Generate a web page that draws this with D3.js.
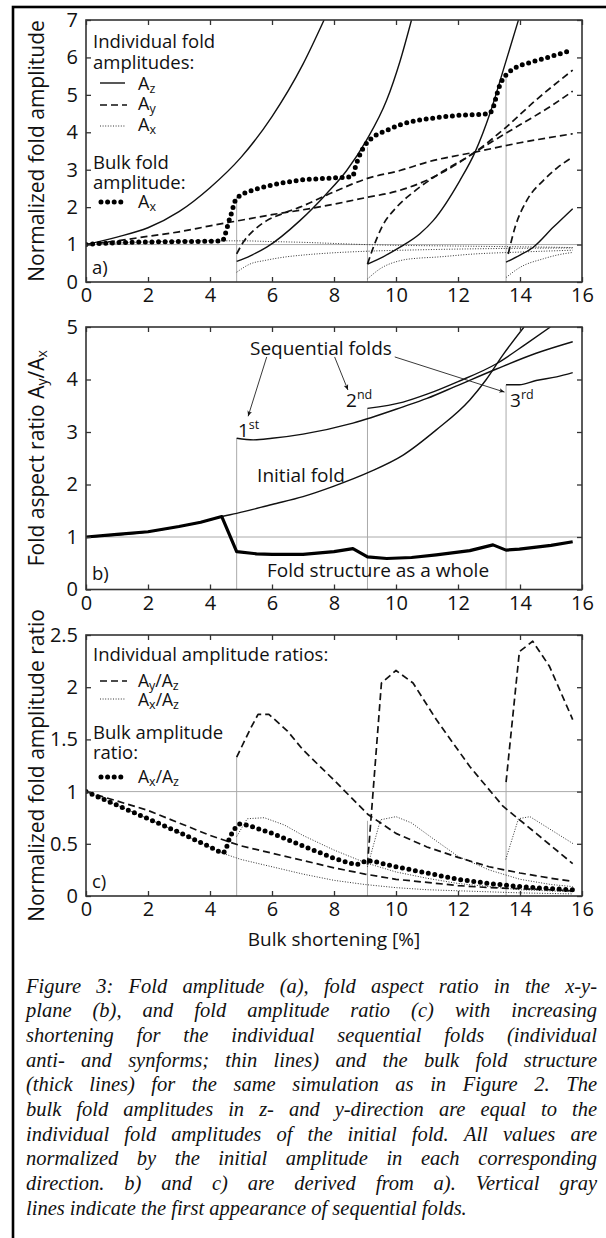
<!DOCTYPE html>
<html>
<head>
<meta charset="utf-8">
<script src="https://cdn.jsdelivr.net/npm/d3@7"></script>
<style>
  body { margin: 0; background: #fff; }
  svg { display: block; }
  text { font-family: "Open Sans", sans-serif; fill: #111; }
  .cap { font-family: "Liberation Serif", "Times New Roman", serif; font-style: italic; }
</style>
</head>
<body>
<svg id="fig" width="606" height="1238"></svg>
<script>
// ---------- data ----------
var xTicks = [0, 2, 4, 6, 8, 10, 12, 14, 16];
var seqStart = [4.86, 9.08, 13.55];

// a) normalized fold amplitude
var aTicks = [0, 1, 2, 3, 4, 5, 6, 7];
var aAzInit = [[0,1],[1,1.2],[2,1.45],[3,1.88],[4,2.52],[5,3.33],[6,4.42],[7,5.82],[7.68,7.0]];
var aAzSeq1 = [[4.86,0.55],[5.3,0.7],[5.83,0.93],[6.9,1.64],[7.76,2.36],[8.41,2.98],[9.05,3.79],[9.7,4.86],[10.13,5.9],[10.5,7.0]];
var aAzSeq2 = [[9.08,0.48],[9.6,0.68],[10.13,0.93],[10.77,1.29],[11.2,1.64],[12.06,2.71],[12.55,3.47],[13.03,4.5],[13.46,5.66],[13.95,7.0]];
var aAzSeq3 = [[13.55,0.53],[14.0,0.72],[14.43,0.93],[15.07,1.46],[15.7,1.96]];
var aAyInit = [[0,1],[1,1.1],[2,1.22],[3,1.34],[4,1.5],[5,1.65],[6,1.8],[7,1.93],[8,2.08],[9,2.25],[10,2.42],[11,2.72],[12,3.17],[12.55,3.47],[13,3.7],[14,4.2],[15,4.7],[15.7,5.1]];
var aAySeq1 = [[4.86,0.75],[5.07,1.06],[5.4,1.37],[5.83,1.64],[6.26,1.8],[6.9,2.0],[7.98,2.4],[9.05,2.76],[10.13,2.98],[11.08,3.22],[12.55,3.47],[14,3.72],[15.7,3.96]];
var aAySeq2 = [[9.08,0.48],[9.27,0.93],[9.54,1.46],[10.02,2.0],[10.56,2.4],[11.5,2.95],[12.55,3.47],[13.5,4.1],[14.5,4.85],[15.7,5.66]];
var aAySeq3 = [[13.62,0.75],[13.84,1.46],[14.22,2.18],[14.75,2.71],[15.2,3.05],[15.7,3.34]];
var aAxInit = [[0,1],[1,1.04],[2,1.07],[3,1.09],[4,1.1],[5,1.1],[6,1.08],[7,1.06],[8,1.03],[9,1.0],[10,0.98],[11,0.97],[12,0.96],[13,0.95],[14,0.94],[15,0.93],[15.7,0.92]];
var aAxSeq1 = [[4.86,0.26],[5.29,0.48],[5.8,0.58],[6.35,0.66],[7,0.72],[7.98,0.78],[9,0.82],[10.77,0.86],[12,0.88],[14,0.9],[15.7,0.91]];
var aAxSeq2 = [[9.08,0.08],[9.48,0.35],[10.13,0.57],[10.77,0.64],[11.2,0.66],[12.55,0.75],[14,0.8],[15.7,0.85]];
var aAxSeq3 = [[13.55,0.12],[14.0,0.39],[14.75,0.62],[15.2,0.72],[15.7,0.79]];
var aAxBulk = [[0,1.0],[0.5,1.03],[1,1.05],[2,1.07],[3,1.08],[4,1.09],[4.4,1.1],[4.5,1.3],[4.6,1.6],[4.7,1.86],[4.8,2.15],[4.95,2.3],[5.2,2.4],[5.8,2.55],[6.9,2.72],[8.0,2.78],[8.6,2.82],[8.7,3.1],[8.85,3.43],[9.0,3.65],[9.2,3.83],[9.7,4.05],[10.2,4.22],[11.2,4.38],[12.0,4.45],[13.0,4.5],[13.15,4.7],[13.25,5.0],[13.35,5.26],[13.5,5.48],[13.8,5.7],[14.4,5.88],[15.1,6.05],[15.7,6.2]];
var aGrayTop = [2.27, 3.6, 5.48];

// b) fold aspect ratio Ay/Ax
var bTicks = [0, 1, 2, 3, 4, 5];
var bBulk = [[0,1],[1,1.05],[2,1.1],[3,1.2],[3.7,1.28],[4.38,1.39],[4.86,0.72],[5.5,0.68],[6,0.67],[7,0.67],[8,0.72],[8.61,0.78],[9.08,0.62],[9.7,0.59],[10.5,0.61],[11.3,0.66],[12.38,0.74],[13.13,0.85],[13.55,0.75],[13.98,0.77],[15,0.84],[15.7,0.91]];
var bInit = [[0,1],[2,1.1],[3,1.2],[3.7,1.28],[4.38,1.39],[4.86,1.45],[6,1.62],[7,1.77],[8,1.97],[9.15,2.24],[10.23,2.56],[11.3,3.04],[12.38,3.61],[12.9,3.99],[13.45,4.47],[14.13,5.0]];
var bSeq1 = [[4.86,2.88],[5.4,2.85],[6,2.88],[7,2.96],[8.61,3.17],[10.23,3.48],[11,3.64],[12,3.89],[13.24,4.2],[14.52,4.5],[15.7,4.72]];
var bSeq2 = [[9.08,3.45],[10.23,3.57],[11,3.72],[12,3.96],[13.24,4.3],[14.2,4.68],[14.98,5.0]];
var bSeq3 = [[13.55,3.9],[13.98,3.9],[14.52,3.98],[15.18,4.05],[15.7,4.13]];
var bGrayTop = [2.88, 3.45, 3.9];
var bArrows = [[[5.83,4.43],[5.23,3.3]], [[8.02,4.43],[8.45,3.8]], [[9.96,4.43],[13.5,3.76]]];

// c) normalized fold amplitude ratio
var cTicks = [0, 0.5, 1, 1.5, 2, 2.5];
var cBulk = [[0,1.0],[1,0.87],[2,0.74],[3,0.61],[4,0.47],[4.4,0.41],[4.5,0.43],[4.6,0.53],[4.75,0.63],[4.95,0.69],[5.2,0.68],[6,0.6],[7,0.48],[8,0.36],[8.7,0.3],[8.85,0.31],[9.05,0.34],[9.3,0.33],[10,0.28],[11,0.22],[12,0.16],[13,0.12],[14,0.09],[15,0.07],[15.7,0.06]];
var cAyInit = [[0,1],[1,0.91],[2,0.82],[3,0.7],[4,0.58],[5,0.48],[6,0.41],[7,0.34],[8,0.27],[9,0.21],[10,0.16],[11,0.13],[12,0.1],[13,0.08],[14,0.07],[15,0.06],[15.7,0.05]];
var cAxInit = [[0,1],[1,0.87],[2,0.74],[3,0.61],[4,0.47],[4.4,0.41],[5,0.35],[6,0.28],[7,0.21],[8,0.15],[9,0.11],[10,0.08],[11,0.06],[12,0.05],[13,0.04],[14,0.03],[15.7,0.02]];
var cAySeq1 = [[4.86,1.33],[5.3,1.6],[5.55,1.74],[5.9,1.74],[6.5,1.58],[7,1.4],[8,1.11],[9.1,0.78],[10,0.6],[11,0.47],[12,0.37],[13,0.28],[14,0.22],[15,0.17],[15.7,0.14]];
var cAySeq2 = [[9.08,0.3],[9.53,2.04],[10.0,2.16],[10.55,2.04],[11.3,1.69],[12.38,1.24],[13.45,0.86],[14.52,0.6],[15.7,0.31]];
var cAySeq3 = [[13.55,1.09],[13.98,2.34],[14.41,2.44],[14.95,2.2],[15.7,1.69]];
var cAxSeq1 = [[4.86,0.57],[5.2,0.74],[5.75,0.75],[6.4,0.68],[7,0.58],[8,0.44],[9,0.32],[10,0.23],[11,0.17],[12,0.12],[13,0.09],[14,0.06],[15.7,0.04]];
var cAxSeq2 = [[9.08,0.28],[9.5,0.73],[10,0.76],[10.5,0.7],[11.1,0.57],[12,0.38],[13,0.25],[14,0.16],[15,0.11],[15.7,0.09]];
var cAxSeq3 = [[13.54,0.35],[13.95,0.74],[14.32,0.76],[14.86,0.66],[15.72,0.5]];
var cGrayTop = [1.33, 0.72, 1.09];

var caption = [
  "Figure 3: Fold amplitude (a), fold aspect ratio in the x-y-",
  "plane (b), and fold amplitude ratio (c) with increasing",
  "shortening for the individual sequential folds (individual",
  "anti- and synforms; thin lines) and the bulk fold structure",
  "(thick lines) for the same simulation as in Figure 2. The",
  "bulk fold amplitudes in z- and y-direction are equal to the",
  "individual fold amplitudes of the initial fold. All values are",
  "normalized by the initial amplitude in each corresponding",
  "direction. b) and c) are derived from a). Vertical gray",
  "lines indicate the first appearance of sequential folds."
];

// ---------- styles ----------
var S = {
  solid:  {w: 1.4, dash: null, col: "#111"},
  dashed: {w: 1.7, dash: "7,4", col: "#111"},
  dotted: {w: 1.0, dash: "1,1.6", col: "#333"},
  dots:   {w: 5, dash: "0,6.6", col: "#000", cap: "round"},
  thick:  {w: 3.2, dash: null, col: "#000"}
};

var svg = d3.select("#fig");
var X0 = 86, X1 = 582;

// outer frame
svg.append("rect").attr("x", 13).attr("y", 7).attr("width", 610).attr("height", 1260)
  .attr("fill", "none").attr("stroke", "#000").attr("stroke-width", 2.6);

svg.append("defs").append("marker").attr("id", "arr")
  .attr("viewBox", "0 0 8 8").attr("refX", 7).attr("refY", 4)
  .attr("markerWidth", 7).attr("markerHeight", 7).attr("orient", "auto")
  .append("path").attr("d", "M0,1 L7,4 L0,7 L2,4 Z").attr("fill", "#111");

function sub(sel, parts, small) {
  // parts: [text, isSub]
  var lowered = false;
  parts.forEach(function (p) {
    var t = sel.append("tspan").text(p[0]);
    if (p[1]) { t.attr("font-size", small).attr("dy", 3); lowered = true; }
    else if (lowered) { t.attr("dy", -3); lowered = false; }
  });
}

function panel(id, top, bottom, ymax, yTicks) {
  var x = d3.scaleLinear().domain([0, 16]).range([X0, X1]);
  var y = d3.scaleLinear().domain([0, ymax]).range([bottom, top]);
  var g = svg.append("g");
  g.append("clipPath").attr("id", "clip" + id).append("rect")
    .attr("x", X0).attr("y", top).attr("width", X1 - X0).attr("height", bottom - top);
  var plot = g.append("g").attr("clip-path", "url(#clip" + id + ")");
  // gray reference line at 1
  plot.append("line").attr("x1", x(0)).attr("x2", x(16)).attr("y1", y(1)).attr("y2", y(1))
    .attr("stroke", "#aaa").attr("stroke-width", 1);
  return {x: x, y: y, g: g, plot: plot, top: top, bottom: bottom, ticks: yTicks};
}

function grayV(P, tops) {
  P.plot.selectAll(".gv").data(seqStart).enter().append("line")
    .attr("x1", function (d) { return P.x(d); }).attr("x2", function (d) { return P.x(d); })
    .attr("y1", P.y(0)).attr("y2", function (d, i) { return P.y(tops[i]); })
    .attr("stroke", "#aaa").attr("stroke-width", 1);
}

function draw(P, data, st, curve) {
  var line = d3.line().x(function (d) { return P.x(d[0]); }).y(function (d) { return P.y(d[1]); })
    .curve(curve || d3.curveMonotoneX);
  var p = P.plot.append("path").datum(data).attr("d", line).attr("fill", "none")
    .attr("stroke", st.col).attr("stroke-width", st.w).attr("stroke-linejoin", "round");
  if (st.dash) p.attr("stroke-dasharray", st.dash);
  if (st.cap) p.attr("stroke-linecap", st.cap);
  return p;
}

function frame(P, fmt) {
  var g = P.g;
  g.append("g").attr("transform", "translate(0," + P.bottom + ")")
    .call(d3.axisBottom(P.x).tickValues(xTicks).tickSize(-5).tickPadding(6).tickFormat(d3.format("d")));
  g.append("g").attr("transform", "translate(0," + P.top + ")")
    .call(d3.axisTop(P.x).tickValues(xTicks).tickSize(-5).tickFormat(""));
  g.append("g").attr("transform", "translate(" + X0 + ",0)")
    .call(d3.axisLeft(P.y).tickValues(P.ticks).tickSize(-5).tickPadding(8).tickFormat(fmt));
  g.append("g").attr("transform", "translate(" + X1 + ",0)")
    .call(d3.axisRight(P.y).tickValues(P.ticks).tickSize(-5).tickFormat(""));
  g.selectAll(".domain").remove();
  g.selectAll(".tick line").attr("stroke", "#333").attr("stroke-width", 1.3);
  g.selectAll(".tick text").attr("font-family", "Open Sans").attr("font-size", 20).attr("fill", "#111");
  g.append("rect").attr("x", X0).attr("y", P.top).attr("width", X1 - X0).attr("height", P.bottom - P.top)
    .attr("fill", "none").attr("stroke", "#333").attr("stroke-width", 1.6);
}

function ytitle(P, parts) {
  var t = svg.append("text").attr("font-size", 21).attr("text-anchor", "middle")
    .attr("transform", "translate(44," + ((P.top + P.bottom) / 2) + ") rotate(-90)");
  sub(t, parts, 14);
}

function label(x, y, parts, size) {
  var t = svg.append("text").attr("x", x).attr("y", y).attr("font-size", size || 18.5);
  sub(t, parts, 12.5);
  return t;
}

function sample(x1, x2, y, st) {
  var p = svg.append("path").attr("d", d3.line()([[x1, y], [x2, y]])).attr("fill", "none")
    .attr("stroke", st.col).attr("stroke-width", st.w);
  if (st.dash) p.attr("stroke-dasharray", st.dash);
  if (st.cap) p.attr("stroke-linecap", st.cap);
}

// ---------- panel a ----------
var A = panel("a", 20, 282, 7, aTicks);
grayV(A, aGrayTop);
[aAxInit, aAxSeq1, aAxSeq2, aAxSeq3].forEach(function (d) { draw(A, d, S.dotted); });
[aAyInit, aAySeq1, aAySeq2, aAySeq3].forEach(function (d) { draw(A, d, S.dashed); });
[aAzInit, aAzSeq1, aAzSeq2, aAzSeq3].forEach(function (d) { draw(A, d, S.solid); });
draw(A, aAxBulk, S.dots);
frame(A, d3.format("d"));
ytitle(A, [["Normalized fold amplitude", false]]);
label(93, 48, [["Individual fold", false]]);
label(93, 69, [["amplitudes:", false]]);
sample(100, 125, 83, S.solid);   label(138, 90, [["A", false], ["z", true]], 18);
sample(100, 127, 105, S.dashed); label(138, 110, [["A", false], ["y", true]], 18);
sample(100, 125, 126, S.dotted); label(138, 131, [["A", false], ["x", true]], 18);
label(93, 169, [["Bulk fold", false]]);
label(93, 189, [["amplitude:", false]]);
sample(101, 126, 202, S.dots);   label(138, 208, [["A", false], ["x", true]], 18);
label(92, 274, [["a)", false]]);

// ---------- panel b ----------
var B = panel("b", 327, 589.5, 5, bTicks);
grayV(B, bGrayTop);
[bInit, bSeq1, bSeq2, bSeq3].forEach(function (d) { draw(B, d, S.solid); });
draw(B, bBulk, S.thick, d3.curveLinear);
frame(B, d3.format("d"));
ytitle(B, [["Fold aspect ratio A", false], ["y", true], ["/A", false], ["x", true]]);
svg.selectAll(".arrow").data(bArrows).enter().append("path")
  .attr("d", function (d) { return d3.line()(d.map(function (p) { return [B.x(p[0]), B.y(p[1])]; })); })
  .attr("fill", "none").attr("stroke", "#222").attr("stroke-width", 0.9).attr("marker-end", "url(#arr)");
label(B.x(5.29), B.y(4.47), [["Sequential folds", false]], 19);
[["1", "st", 4.9, 2.9], ["2", "nd", 8.39, 3.48], ["3", "rd", 13.68, 3.48]].forEach(function (o) {
  var t = svg.append("text").attr("x", B.x(o[2])).attr("y", B.y(o[3])).attr("font-size", 19);
  t.append("tspan").text(o[0]);
  t.append("tspan").text(o[1]).attr("font-size", 12.5).attr("dy", -8);
});
label(B.x(5.52), B.y(2.05), [["Initial fold", false]], 19);
label(B.x(5.84), B.y(0.24), [["Fold structure as a whole", false]], 19);
label(92, 580, [["b)", false]]);

// ---------- panel c ----------
var C = panel("c", 635, 896, 2.5, cTicks);
grayV(C, cGrayTop);
[cAxInit, cAxSeq1, cAxSeq2, cAxSeq3].forEach(function (d) { draw(C, d, S.dotted, d3.curveLinear); });
[cAyInit, cAySeq1, cAySeq2, cAySeq3].forEach(function (d) { draw(C, d, S.dashed, d3.curveLinear); });
draw(C, cBulk, S.dots, d3.curveLinear);
frame(C, function (d) { return String(d); });
ytitle(C, [["Normalized fold amplitude ratio", false]]);
label(93, 661, [["Individual amplitude ratios:", false]]);
sample(100, 127, 681, S.dashed); label(138, 687, [["A", false], ["y", true], ["/A", false], ["z", true]], 17.5);
sample(100, 125, 699, S.dotted); label(138, 706, [["A", false], ["x", true], ["/A", false], ["z", true]], 17.5);
label(93, 739, [["Bulk amplitude", false]]);
label(93, 759, [["ratio:", false]]);
sample(101, 126, 777, S.dots);   label(138, 783, [["A", false], ["x", true], ["/A", false], ["z", true]], 17.5);
label(92, 888, [["c)", false]]);

svg.append("text").attr("x", (X0 + X1) / 2).attr("y", 946).attr("text-anchor", "middle")
  .attr("font-size", 19).text("Bulk shortening [%]");

// ---------- caption (justified) ----------
var capL = 26, capR = 597, capTop = 992.5, capLH = 24.7, capSize = 20.5;
caption.forEach(function (ln, i) {
  var t = svg.append("text").attr("class", "cap").attr("font-size", capSize).attr("y", capTop + i * capLH);
  var words = ln.split(" ");
  var spans = words.map(function (w) { return t.append("tspan").text(w); });
  var widths = spans.map(function (s) { return s.node().getComputedTextLength(); });
  var total = d3.sum(widths);
  var gap = (i < caption.length - 1) ? (capR - capL - total) / (words.length - 1) : capSize * 0.25;
  var xx = capL;
  spans.forEach(function (s, k) { s.attr("x", xx); xx += widths[k] + gap; });
});
</script>
</body>
</html>
